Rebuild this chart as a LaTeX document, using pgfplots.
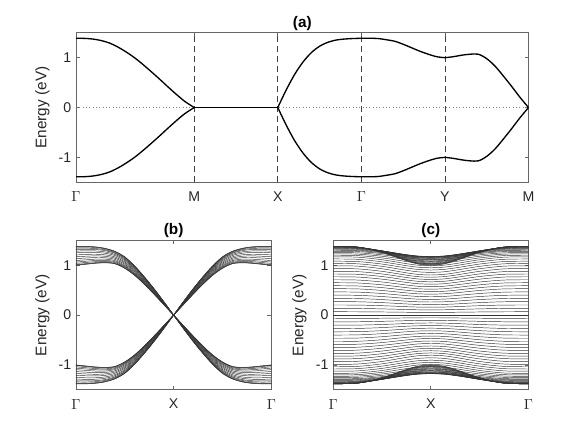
\documentclass[border=0pt]{standalone}
\usepackage{fontspec}
\setmainfont{Liberation Sans}
\usepackage{pgfplots}
\usepackage{pgfplotstable}
\pgfplotsset{compat=1.18}

% ribbon (b): upper band, Gamma -> X half, one column per subband
\pgfplotstableread{
s   l0    l1    l2    l3    l4    l5    l6    l7    l8    l9    l10   l11   l12   l13   l14   l15
0   1.380 1.376 1.365 1.342 1.319 1.285 1.251 1.209 1.171 1.133 1.095 1.065 1.038 1.015 1.004 1.000
0.1 1.380 1.376 1.366 1.344 1.322 1.290 1.258 1.218 1.182 1.146 1.110 1.081 1.056 1.034 1.024 1.020
0.2 1.370 1.367 1.357 1.337 1.317 1.288 1.258 1.222 1.189 1.156 1.123 1.096 1.073 1.053 1.043 1.040
0.3 1.340 1.337 1.328 1.311 1.294 1.268 1.241 1.210 1.181 1.152 1.123 1.099 1.079 1.062 1.053 1.050
0.4 1.280 1.278 1.270 1.255 1.240 1.218 1.195 1.168 1.143 1.118 1.093 1.073 1.055 1.040 1.033 1.030
0.5 1.170 1.168 1.161 1.147 1.133 1.113 1.092 1.067 1.044 1.021 0.998 0.979 0.963 0.949 0.942 0.940
0.6 0.990 0.988 0.982 0.971 0.960 0.943 0.925 0.905 0.886 0.867 0.848 0.832 0.819 0.808 0.802 0.800
0.7 0.770 0.769 0.764 0.755 0.746 0.733 0.719 0.703 0.688 0.673 0.658 0.646 0.635 0.626 0.622 0.620
0.8 0.530 0.529 0.526 0.519 0.512 0.503 0.493 0.481 0.470 0.459 0.448 0.439 0.431 0.424 0.421 0.420
0.9 0.270 0.269 0.268 0.264 0.260 0.255 0.250 0.243 0.237 0.231 0.225 0.220 0.216 0.212 0.211 0.210
1.0 0 0 0 0 0 0 0 0 0 0 0 0 0 0 0 0
}\bandb

% ribbon (c): upper half, Gamma -> X half, one column per subband
\pgfplotstableread{
s     c0    c1    c2    c3    c4    c5    c6    c7    c8    c9    c10   c11   c12   c13   c14   c15   c16   c17   c18   c19   c20   c21   c22   c23   c24   c25   c26   c27   c28   c29   c30   c31   c32   c33   c34   c35   c36   c37   c38   c39   c40
0     1.380 1.380 1.380 1.380 1.380 1.378 1.376 1.373 1.370 1.363 1.355 1.348 1.340 1.327 1.312 1.297 1.280 1.256 1.230 1.202 1.170 1.127 1.082 1.037 0.990 0.935 0.880 0.825 0.770 0.710 0.650 0.590 0.530 0.465 0.400 0.335 0.270 0.203 0.135 0.068 0
0.25  1.365 1.365 1.366 1.366 1.367 1.365 1.364 1.362 1.360 1.354 1.347 1.341 1.333 1.321 1.306 1.292 1.275 1.250 1.224 1.195 1.163 1.120 1.075 1.030 0.983 0.928 0.873 0.819 0.764 0.704 0.645 0.585 0.526 0.461 0.397 0.332 0.268 0.201 0.134 0.067 0
0.5   1.258 1.261 1.264 1.268 1.273 1.277 1.282 1.286 1.290 1.291 1.290 1.289 1.287 1.279 1.268 1.254 1.236 1.211 1.182 1.149 1.112 1.070 1.025 0.979 0.931 0.879 0.827 0.775 0.722 0.665 0.608 0.552 0.495 0.434 0.373 0.312 0.251 0.189 0.125 0.063 0
0.75  1.091 1.097 1.105 1.114 1.125 1.139 1.153 1.167 1.180 1.192 1.201 1.209 1.213 1.212 1.206 1.194 1.176 1.150 1.116 1.075 1.033 0.992 0.947 0.900 0.849 0.802 0.755 0.706 0.656 0.604 0.551 0.499 0.446 0.391 0.335 0.280 0.224 0.169 0.112 0.057 0
0.875 1.023 1.030 1.040 1.051 1.065 1.082 1.101 1.118 1.135 1.151 1.165 1.176 1.183 1.185 1.181 1.170 1.151 1.124 1.089 1.045 1.001 0.961 0.916 0.868 0.816 0.771 0.725 0.677 0.629 0.578 0.528 0.477 0.427 0.374 0.320 0.267 0.214 0.161 0.107 0.054 0
1     1.000 1.008 1.018 1.030 1.045 1.063 1.083 1.102 1.120 1.138 1.153 1.165 1.173 1.176 1.173 1.162 1.143 1.116 1.080 1.035 0.990 0.950 0.905 0.857 0.805 0.760 0.715 0.668 0.620 0.570 0.520 0.470 0.420 0.368 0.315 0.263 0.210 0.158 0.105 0.053 0
}\bandc

\pgfplotsset{
  mlab/.style={
    scale only axis,
    axis line style={black!60, line width=0.5pt},
    tick style={black!60, line width=0.5pt},
    tick align=inside,
    major tick length=3pt,
    ymin=-1.5, ymax=1.5,
    ytick={-1,0,1}, yticklabels={-1,0,1},
    ylabel={Energy (eV)},
    tick label style={font=\fontsize{10.6}{12}\selectfont, color=black!85},
    xticklabel style={yshift=-3.5pt},
    label style={font=\fontsize{11.5}{13}\selectfont, color=black!85},
    every axis title shift=0pt,
    title style={font=\bfseries\fontsize{11.5}{13}\selectfont, inner sep=0pt, yshift=1.5pt},
  },
  band/.style={black, line width=1pt, smooth},
  sub/.style={black!80, line width=0.35pt, smooth},
}

\begin{document}
\begin{tikzpicture}
\path[use as bounding box] (0,0) rectangle (438pt,328.5pt);

% (a) bulk bands
\begin{axis}[mlab, at={(57pt,191.8pt)}, anchor=south west,
  width=339.4pt, height=112.1pt,
  xmin=0, xmax=5.4142,
  xtick={0,1.4142,2.4142,3.4142,4.4142,5.4142},
  xticklabels={$\Gamma$,M,X,$\Gamma$,Y,M},
  title={(a)}]
\addplot[gray, dotted, line width=0.5pt] coordinates {(0,0) (5.4142,0)};
\addplot[black!75, dash pattern=on 5pt off 2.5pt, line width=0.5pt] coordinates {(1.4142,-1.5) (1.4142,1.5)};
\addplot[black!75, dash pattern=on 5pt off 2.5pt, line width=0.5pt] coordinates {(2.4142,-1.5) (2.4142,1.5)};
\addplot[black!75, dash pattern=on 5pt off 2.5pt, line width=0.5pt] coordinates {(3.4142,-1.5) (3.4142,1.5)};
\addplot[black!75, dash pattern=on 5pt off 2.5pt, line width=0.5pt] coordinates {(4.4142,-1.5) (4.4142,1.5)};
% upper band
\addplot[band] coordinates {(0,1.39) (0.1,1.388) (0.2,1.375) (0.3,1.345) (0.4,1.295) (0.5,1.215) (0.6,1.115) (0.7,1.0) (0.8,0.865) (0.9,0.72) (1.0,0.57) (1.1,0.415) (1.2,0.265) (1.3,0.125) (1.4142,0)};
\addplot[band] coordinates {(1.4142,0) (2.4142,0)};
\addplot[band] coordinates {(2.4142,0) (2.5142,0.35) (2.6142,0.66) (2.7142,0.91) (2.8142,1.10) (2.9142,1.23) (3.0142,1.31) (3.1142,1.355) (3.2142,1.375) (3.3142,1.385) (3.4142,1.39)};
\addplot[band] coordinates {(3.4142,1.39) (3.5142,1.39) (3.6142,1.385) (3.7142,1.36) (3.8142,1.33) (3.9142,1.27) (4.0142,1.20) (4.1142,1.13) (4.2142,1.07) (4.3142,1.02) (4.4142,1.00)};
\addplot[band] coordinates {(4.4142,1.00) (4.5142,1.02) (4.6142,1.05) (4.7142,1.07) (4.8142,1.07) (4.9142,0.98) (5.0142,0.83) (5.1142,0.63) (5.2142,0.42) (5.3142,0.20) (5.4142,0)};
% lower band
\addplot[band] coordinates {(0,-1.39) (0.1,-1.388) (0.2,-1.375) (0.3,-1.345) (0.4,-1.295) (0.5,-1.215) (0.6,-1.115) (0.7,-1.0) (0.8,-0.865) (0.9,-0.72) (1.0,-0.57) (1.1,-0.415) (1.2,-0.265) (1.3,-0.125) (1.4142,0)};
\addplot[band] coordinates {(2.4142,0) (2.5142,-0.35) (2.6142,-0.66) (2.7142,-0.91) (2.8142,-1.10) (2.9142,-1.23) (3.0142,-1.31) (3.1142,-1.355) (3.2142,-1.375) (3.3142,-1.385) (3.4142,-1.39)};
\addplot[band] coordinates {(3.4142,-1.39) (3.5142,-1.39) (3.6142,-1.385) (3.7142,-1.36) (3.8142,-1.33) (3.9142,-1.27) (4.0142,-1.20) (4.1142,-1.13) (4.2142,-1.07) (4.3142,-1.02) (4.4142,-1.00)};
\addplot[band] coordinates {(4.4142,-1.00) (4.5142,-1.02) (4.6142,-1.05) (4.7142,-1.07) (4.8142,-1.07) (4.9142,-0.98) (5.0142,-0.83) (5.1142,-0.63) (5.2142,-0.42) (5.3142,-0.20) (5.4142,0)};
\end{axis}

% (b) ribbon
\begin{axis}[mlab, at={(56.9pt,36.15pt)}, anchor=south west,
  width=146.6pt, height=112.05pt,
  xmin=0, xmax=2, xtick={0,1,2},
  xticklabels={$\Gamma$,X,$\Gamma$},
  title={(b)}]
\pgfplotsinvokeforeach{0,...,15}{
  \addplot[sub] table[x=s, y=l#1] {\bandb};
  \addplot[sub] table[x expr=2-\thisrow{s}, y=l#1] {\bandb};
  \addplot[sub] table[x=s, y expr=-\thisrow{l#1}] {\bandb};
  \addplot[sub] table[x expr=2-\thisrow{s}, y expr=-\thisrow{l#1}] {\bandb};
}
\end{axis}

% (c) ribbon
\begin{axis}[mlab, at={(249.8pt,36.15pt)}, anchor=south west,
  width=146.6pt, height=112.05pt,
  xmin=0, xmax=2, xtick={0,1,2},
  xticklabels={$\Gamma$,X,$\Gamma$},
  title={(c)}]
\pgfplotsinvokeforeach{0,...,40}{
  \addplot[sub] table[x=s, y=c#1] {\bandc};
  \addplot[sub] table[x expr=2-\thisrow{s}, y=c#1] {\bandc};
  \addplot[sub] table[x=s, y expr=-\thisrow{c#1}] {\bandc};
  \addplot[sub] table[x expr=2-\thisrow{s}, y expr=-\thisrow{c#1}] {\bandc};
}
\end{axis}
\end{tikzpicture}
\end{document}
